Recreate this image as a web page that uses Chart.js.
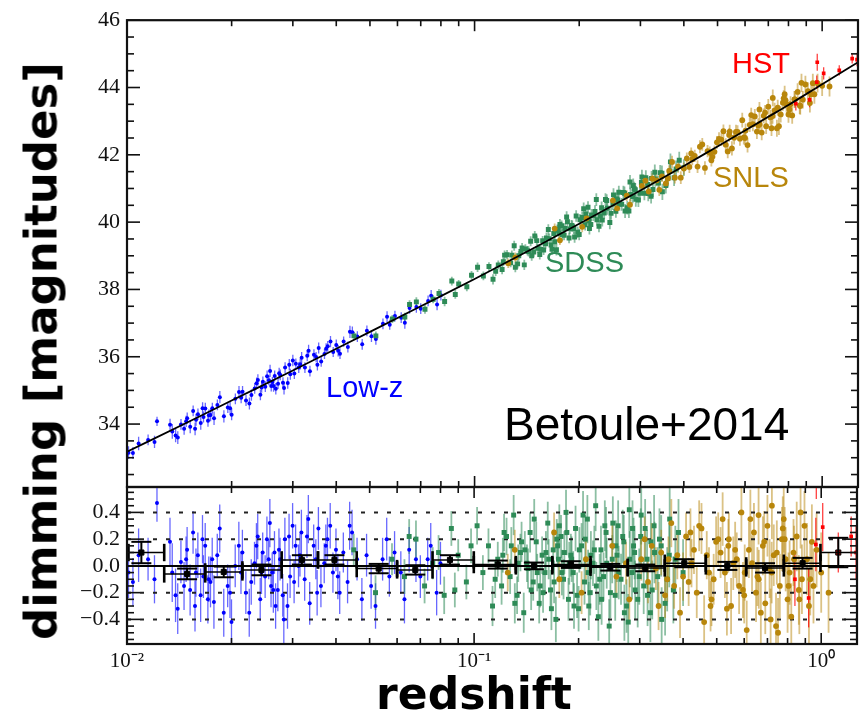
<!DOCTYPE html>
<html>
<head>
<meta charset="utf-8">
<script src="https://cdn.jsdelivr.net/npm/chart.js@4/dist/chart.umd.min.js"></script>
<style>
html,body{margin:0;padding:0;background:#fff;}
#wrap{position:relative;width:862px;height:715px;overflow:hidden;background:#fff;}
#wrap canvas{position:absolute;left:0;top:0;}
.lbl{position:absolute;font-family:'Liberation Sans',Arial,sans-serif;white-space:nowrap;line-height:1;}
.ttl{position:absolute;font-family:'DejaVu Sans',sans-serif;font-weight:bold;white-space:nowrap;line-height:1;color:#000;}
</style>
</head>
<body>
<div id="wrap">
  <canvas id="topChart" width="862" height="715"></canvas>
  <canvas id="botChart" width="862" height="715"></canvas>
  <div class="lbl" style="left:732px;top:48.5px;font-size:29px;color:#ff0000;">HST</div>
  <div class="lbl" style="left:713px;top:162.5px;font-size:29px;color:#b8860b;">SNLS</div>
  <div class="lbl" style="left:545px;top:247.5px;font-size:29px;color:#2e8b57;">SDSS</div>
  <div class="lbl" style="left:326px;top:372.5px;font-size:29px;color:#0000ff;">Low-z</div>
  <div class="lbl" style="left:504px;top:401px;font-size:46px;color:#000;">Betoule+2014</div>
  <div class="ttl" style="left:474px;top:672px;font-size:44px;transform:translateX(-50%);">redshift</div>
  <div class="ttl" style="left:41px;top:351px;font-size:45px;transform:translate(-50%,-50%) rotate(-90deg);">dimming [magnitudes]</div>
</div>
<script>
// ---------------- DATA ----------------
// Axis ticks
const xMajorTicks = [0.01, 0.1, 1];
const xTickLabels = ['10\u207B\u00B2', '10\u207B\u00B9', '10\u2070'];
const xMinorTicks = [0.02,0.03,0.04,0.05,0.06,0.07,0.08,0.09,0.2,0.3,0.4,0.5,0.6,0.7,0.8,0.9];
const topYTicks = [34, 36, 38, 40, 42, 44, 46];
const topYMinorTicks = [32.5,33,33.5,34.5,35,35.5,36.5,37,37.5,38.5,39,39.5,40.5,41,41.5,42.5,43,43.5,44.5,45,45.5];
const resYTicks = [-0.4, -0.2, 0.0, 0.2, 0.4];
const resYMinorTicks = [-0.55,-0.5,-0.45,-0.35,-0.3,-0.25,-0.15,-0.1,-0.05,0.05,0.1,0.15,0.25,0.3,0.35,0.45,0.5,0.55];
const resGridLines = [-0.4, -0.2, 0.2, 0.4];

// Best-fit model line (distance modulus vs redshift)
const modelZ  = [0.01, 0.015, 0.02, 0.03, 0.05, 0.07, 0.1, 0.15, 0.2, 0.3, 0.4, 0.5, 0.6, 0.7, 0.8, 1.0, 1.3];
const modelMu = [33.18, 34.06, 34.70, 35.59, 36.74, 37.50, 38.31, 39.26, 39.95, 40.94, 41.67, 42.25, 42.72, 43.13, 43.48, 44.10, 44.82];
const zeroLineZ = [0.01, 1.3];
const zeroLineRes = [0, 0];

// Low-z sample
const lowzZ = [0.0101,0.0104,0.0108,0.0115,0.0122,0.0135,0.0140,0.0143,0.0146,0.0149,0.0152,0.0155,0.0158,0.0160,0.0163,0.0166,0.0168,0.0171,0.0174,0.0176,0.0178,0.0182,0.0190,0.0195,0.0200,0.0205,0.0210,0.0213,0.0220,0.0228,0.0233,0.0238,0.0242,0.0246,0.0250,0.0253,0.0256,0.0260,0.0262,0.0266,0.0268,0.0272,0.0276,0.0281,0.0285,0.0290,0.0295,0.0300,0.0306,0.0312,0.0318,0.0325,0.0330,0.0336,0.0345,0.0350,0.0356,0.0362,0.0370,0.0378,0.0385,0.0392,0.0400,0.0410,0.0420,0.0432,0.0445,0.0460,0.0475,0.0490,0.0520,0.0545,0.0570,0.0590,0.0615,0.0650,0.0700,0.0735,0.0780,0.0800,
  0.0133,0.0138,0.0148,0.0157,0.0165,0.0172,0.0185,0.0198,0.0215,0.0225,0.0236,0.0244,0.0258,0.0264,0.0274,0.0283,0.0293,0.0303,0.0315,0.0333,0.0353,0.0374,0.0405,0.0438,0.0505,0.0560,0.0630,0.0680,0.0750,0.0120];
const lowzMu = [33.15,33.14,33.42,33.53,34.08,33.78,33.60,33.99,33.86,34.17,33.92,34.39,34.13,34.29,34.03,34.21,34.46,34.10,34.27,34.47,34.17,34.57,34.23,34.49,34.28,34.75,34.95,34.78,34.70,34.86,35.06,35.31,34.87,35.26,35.11,35.42,35.30,35.13,35.25,35.43,35.05,35.20,35.46,35.23,35.68,35.22,35.48,35.89,35.79,35.68,35.97,35.68,36.03,35.57,36.06,35.99,36.26,35.86,36.08,36.31,36.45,36.14,36.35,36.09,36.45,36.29,36.73,36.60,36.37,36.77,36.53,36.98,36.95,37.21,37.16,37.45,37.43,37.66,37.55,37.83,
  33.98,33.66,34.08,33.86,34.47,34.26,34.80,34.47,34.96,34.61,35.21,35.09,35.58,35.13,35.51,35.07,35.76,35.50,35.78,36.18,35.76,36.24,36.18,36.74,36.61,37.19,37.01,37.48,37.81,33.47];
const lowzRes = [-0.05,-0.12,0.08,0.05,0.47,-0.05,-0.32,0.03,-0.15,0.12,-0.18,0.25,-0.05,0.08,-0.22,-0.08,0.15,-0.25,-0.12,0.05,-0.27,0.08,-0.35,-0.15,-0.42,0.00,0.15,-0.05,-0.20,-0.12,0.02,0.22,-0.25,0.10,-0.08,0.20,0.05,-0.15,-0.05,0.10,-0.30,-0.18,0.05,-0.22,0.20,-0.30,-0.08,0.30,0.15,0.00,0.25,-0.10,0.22,-0.28,0.15,0.05,0.28,-0.15,0.02,0.20,0.30,-0.05,0.12,-0.20,0.10,-0.12,0.25,0.05,-0.25,0.08,-0.30,0.05,-0.08,0.10,-0.05,0.12,-0.08,0.05,-0.20,0.02,
  0.18,-0.22,0.05,-0.30,0.20,-0.10,0.28,-0.20,0.10,-0.35,0.15,-0.05,0.32,-0.18,0.12,-0.40,0.22,-0.12,0.08,0.35,-0.20,0.15,-0.08,0.30,-0.15,0.20,-0.25,0.05,0.15,-0.10];
const lowzErr = [0.19,0.18,0.20,0.16,0.14,0.22,0.19,0.16,0.18,0.17,0.19,0.16,0.18,0.17,0.20,0.16,0.17,0.18,0.19,0.16,0.20,0.16,0.18,0.16,0.17,0.16,0.18,0.16,0.16,0.17,0.16,0.17,0.16,0.15,0.16,0.17,0.15,0.16,0.15,0.16,0.17,0.16,0.16,0.16,0.16,0.17,0.16,0.17,0.16,0.16,0.17,0.16,0.16,0.16,0.16,0.15,0.16,0.16,0.15,0.16,0.17,0.15,0.16,0.16,0.15,0.16,0.17,0.16,0.16,0.16,0.17,0.16,0.15,0.16,0.16,0.17,0.16,0.16,0.17,0.16,
  0.18,0.20,0.17,0.19,0.18,0.17,0.18,0.19,0.17,0.18,0.17,0.16,0.18,0.17,0.16,0.19,0.17,0.16,0.16,0.18,0.17,0.16,0.17,0.18,0.17,0.16,0.18,0.17,0.17,0.18];

// SDSS sample
const sdssZ = [0.045,0.052,0.058,0.063,0.068,0.072,0.076,0.082,0.086,0.090,0.095,0.102,0.106,0.110,0.113,0.117,0.120,0.124,0.127,0.130,0.133,0.136,0.139,0.142,0.145,0.148,0.151,0.154,0.157,0.160,0.163,0.166,0.169,0.172,0.175,0.178,0.181,0.184,0.187,0.190,0.193,0.196,0.200,0.204,0.208,0.212,0.216,0.220,0.224,0.228,0.232,0.236,0.240,0.245,0.250,0.255,0.260,0.265,0.270,0.275,0.280,0.285,0.290,0.296,0.302,0.308,0.315,0.322,0.330,0.338,0.346,0.355,0.365,0.375,0.388,0.400,
  0.121,0.128,0.134,0.140,0.146,0.152,0.158,0.164,0.170,0.176,0.182,0.188,0.194,0.201,0.209,0.217,0.225,0.233,0.241,0.251,0.261,0.271,0.281,0.291,0.303,0.316,0.331,0.347,0.366,0.173,0.213,0.256,0.286,0.323,
  0.115,0.122,0.131,0.137,0.143,0.149,0.155,0.161,0.167,0.174,0.179,0.185,0.191,0.198,0.206,0.214,0.222,0.230,0.238,0.247,0.258,0.268,0.278,0.288,0.299,0.311,0.326,0.342,0.360,0.380,0.098,0.088,0.079,0.065];
const sdssMu = [36.62,36.62,37.12,37.18,37.63,37.41,37.71,37.64,38.25,38.16,38.08,38.66,38.40,38.68,38.30,38.73,38.59,39.03,38.79,39.30,38.76,39.13,38.73,39.15,39.43,39.11,39.45,39.04,39.45,39.36,39.78,39.32,39.66,39.18,39.68,39.89,39.61,40.15,39.53,39.90,39.81,40.18,39.63,40.14,39.92,40.44,39.93,40.20,40.67,39.88,40.43,40.27,40.64,39.99,40.54,40.32,40.89,40.53,40.86,40.43,41.19,40.76,40.96,40.66,41.18,40.86,41.12,40.77,41.48,41.16,41.45,41.09,41.52,41.32,41.84,41.62,
  38.82,39.02,39.00,39.20,39.00,39.22,39.17,39.51,39.42,39.93,39.81,39.80,39.56,40.07,40.24,40.21,40.07,40.06,40.41,40.81,40.54,40.33,40.82,40.68,41.34,40.85,41.28,40.90,41.79,39.78,40.04,40.69,41.09,41.30,
  38.54,39.02,38.66,39.23,39.13,39.59,39.19,39.53,39.19,39.76,39.63,40.01,39.88,39.70,40.40,39.81,40.32,40.18,40.67,40.26,40.65,40.88,40.33,40.99,40.86,41.32,40.97,41.47,41.30,41.58,38.42,37.85,37.88,37.55];
const sdssRes = [0.12,-0.20,0.05,-0.08,0.20,-0.15,0.02,-0.22,0.28,0.08,-0.12,0.30,-0.05,0.15,-0.30,0.05,-0.15,0.22,-0.08,0.38,-0.22,0.10,-0.35,0.02,0.25,-0.12,0.18,-0.28,0.08,-0.05,0.32,-0.18,0.12,-0.40,0.05,0.22,-0.10,0.40,-0.25,0.08,-0.05,0.28,-0.32,0.15,-0.12,0.35,-0.20,0.02,0.45,-0.38,0.12,-0.08,0.25,-0.45,0.05,-0.22,0.30,-0.10,0.18,-0.30,0.42,-0.05,0.10,-0.25,0.22,-0.15,0.05,-0.35,0.30,-0.08,0.15,-0.28,0.08,-0.18,0.25,-0.05,
  0.08,0.15,0.02,0.12,-0.18,-0.05,-0.20,0.05,-0.12,0.30,0.10,0.02,-0.30,0.12,0.20,0.08,-0.15,-0.25,0.02,0.32,-0.05,-0.35,0.05,-0.18,0.38,-0.22,0.10,-0.40,0.35,0.20,-0.05,0.15,0.28,0.18,
  -0.10,0.25,-0.28,0.18,-0.02,0.35,-0.15,0.10,-0.32,0.15,-0.05,0.25,0.05,-0.22,0.38,-0.30,0.12,-0.10,0.30,-0.20,0.08,0.22,-0.42,0.15,-0.08,0.28,-0.18,0.20,-0.10,0.05,0.15,-0.18,0.10,0.22];
const sdssErr = [0.12,0.13,0.12,0.13,0.14,0.13,0.12,0.14,0.13,0.12,0.13,0.14,0.13,0.13,0.15,0.13,0.14,0.14,0.13,0.15,0.14,0.14,0.15,0.14,0.15,0.14,0.15,0.15,0.14,0.15,0.16,0.15,0.15,0.17,0.15,0.16,0.15,0.17,0.16,0.16,0.16,0.17,0.17,0.17,0.17,0.18,0.17,0.17,0.19,0.18,0.18,0.18,0.19,0.20,0.18,0.19,0.19,0.19,0.20,0.20,0.21,0.20,0.20,0.21,0.21,0.21,0.22,0.22,0.23,0.22,0.23,0.24,0.24,0.25,0.25,0.25,
  0.13,0.14,0.14,0.14,0.15,0.14,0.15,0.15,0.16,0.16,0.16,0.16,0.17,0.17,0.18,0.18,0.18,0.19,0.19,0.20,0.20,0.21,0.21,0.22,0.22,0.23,0.23,0.24,0.25,0.15,0.17,0.19,0.21,0.22,
  0.14,0.14,0.15,0.15,0.15,0.15,0.16,0.16,0.16,0.16,0.17,0.17,0.17,0.17,0.18,0.18,0.18,0.19,0.19,0.19,0.20,0.20,0.21,0.21,0.21,0.22,0.22,0.23,0.24,0.25,0.13,0.13,0.13,0.13];

// SNLS sample
const snlsZ = [0.125,0.131,0.170,0.176,0.210,0.204,0.250,0.257,0.280,0.274,0.310,0.317,0.303,0.340,0.346,0.334,0.370,0.377,0.363,0.400,0.408,0.392,0.430,0.438,0.423,0.460,0.468,0.452,0.490,0.498,0.483,0.520,0.528,0.513,0.550,0.558,0.542,0.580,0.589,0.571,0.610,0.619,0.602,0.640,0.649,0.632,0.670,0.679,0.661,0.700,0.710,0.690,0.730,0.741,0.721,0.760,0.771,0.751,0.790,0.800,0.780,0.820,0.832,0.811,0.850,0.862,0.880,0.872,0.910,0.922,0.950,0.940,1.000,1.050,
  0.325,0.355,0.385,0.415,0.445,0.475,0.505,0.535,0.565,0.595,0.625,0.655,0.685,0.715,0.745,0.775,0.805,0.835,0.865,0.895,0.930,0.970,0.360,0.420,0.480,0.540,0.600,0.660,0.720,0.785];
const snlsMu = [38.78,38.95,39.81,39.46,40.11,39.86,40.64,40.41,40.52,40.79,41.23,40.91,41.08,40.96,41.36,41.24,41.79,41.32,41.52,41.59,41.89,41.32,41.97,41.65,41.87,41.61,42.11,42.31,42.09,42.37,41.94,42.70,42.30,42.45,42.19,42.51,42.69,42.48,43.03,42.68,42.29,42.89,42.72,43.14,42.69,42.91,42.66,43.16,42.91,43.43,43.11,42.85,43.32,42.79,43.69,43.20,43.55,42.85,43.50,43.20,43.80,43.17,43.65,43.50,43.87,43.47,43.64,44.14,43.89,43.54,43.80,44.13,44.05,44.03,
  41.29,41.15,41.65,41.64,42.24,42.06,42.47,42.10,42.68,42.52,43.18,42.87,43.25,42.79,43.40,43.68,43.35,43.65,43.45,44.09,43.80,44.13,41.30,42.04,41.84,42.59,42.50,43.35,43.15,43.62];
const snlsRes = [-0.05,0.12,0.25,-0.10,0.05,-0.20,0.15,-0.08,-0.25,0.02,0.20,-0.12,0.05,-0.30,0.10,-0.02,0.32,-0.15,0.05,-0.08,0.22,-0.35,0.12,-0.20,0.02,-0.42,0.08,0.28,-0.10,0.18,-0.25,0.35,-0.05,0.10,-0.30,0.02,0.20,-0.15,0.40,0.05,-0.48,0.12,-0.05,0.25,-0.20,0.02,-0.35,0.15,-0.10,0.30,-0.02,-0.28,0.08,-0.45,0.45,-0.15,0.20,-0.50,0.05,-0.25,0.35,-0.38,0.10,-0.05,0.22,-0.18,-0.10,0.40,0.05,-0.30,-0.15,0.18,-0.05,-0.20,
  0.15,-0.22,0.08,-0.12,0.30,-0.05,0.20,-0.32,0.12,-0.18,0.35,-0.08,0.18,-0.40,0.10,0.28,-0.15,0.05,-0.25,0.30,-0.10,0.12,-0.10,0.25,-0.30,0.15,-0.22,0.38,-0.05,0.20];
const snlsErr = [0.14,0.15,0.15,0.14,0.15,0.16,0.16,0.15,0.17,0.16,0.17,0.16,0.16,0.18,0.17,0.16,0.18,0.17,0.17,0.18,0.18,0.19,0.18,0.19,0.18,0.20,0.18,0.19,0.19,0.19,0.20,0.20,0.19,0.19,0.21,0.20,0.20,0.21,0.22,0.20,0.22,0.21,0.21,0.22,0.22,0.21,0.23,0.22,0.22,0.23,0.22,0.23,0.23,0.25,0.25,0.24,0.24,0.26,0.24,0.25,0.25,0.25,0.25,0.24,0.26,0.26,0.26,0.27,0.27,0.28,0.28,0.28,0.30,0.30,
  0.17,0.17,0.18,0.18,0.19,0.19,0.20,0.20,0.21,0.21,0.22,0.22,0.23,0.23,0.24,0.24,0.25,0.25,0.26,0.26,0.27,0.28,0.17,0.18,0.19,0.20,0.21,0.22,0.23,0.24];

// HST sample
const hstZ   = [0.84, 0.92, 0.965, 0.968, 1.01, 1.12, 1.22, 1.26];
const hstMu  = [43.52, 43.63, 44.16, 44.75, 44.42, 44.51, 44.86, 44.83];
const hstRes = [-0.10, -0.24, 0.16, 0.75, 0.29, 0.10, 0.22, 0.10];
const hstErr = [0.20, 0.22, 0.20, 0.25, 0.18, 0.15, 0.15, 0.20];

// Binned residuals (black)
const binZ   = [0.0110,0.0149,0.0190,0.0244,0.0319,0.0396,0.0531,0.0677,0.0852,0.117,0.1487,0.190,0.2468,0.3112,0.4032,0.5365,0.689,0.884,1.12];
const binLo  = [0.0101,0.0128,0.0168,0.0215,0.0279,0.0355,0.0459,0.0600,0.0759,0.0998,0.1319,0.168,0.2165,0.2771,0.3542,0.4651,0.608,0.7804,0.995];
const binHi  = [0.0128,0.0168,0.0215,0.0279,0.0355,0.0459,0.0600,0.0759,0.0998,0.1319,0.168,0.2165,0.2771,0.3542,0.4651,0.608,0.7804,0.995,1.27];
const binRes = [0.10,-0.06,-0.045,-0.03,0.045,0.045,-0.02,-0.03,0.045,0.01,0.0,0.01,-0.01,-0.015,0.02,0.0,-0.015,0.02,0.10];
const binErr = [0.08,0.04,0.04,0.04,0.035,0.035,0.035,0.035,0.035,0.03,0.025,0.025,0.025,0.025,0.03,0.03,0.035,0.04,0.11];

// ---------------- HELPERS ----------------
const pts = (xs, ys) => xs.map((x, i) => ({x: x, y: ys[i]}));
const X_MIN = 0.01, X_MAX = 1.268;

function strokeLine(ctx, x0, y0, x1, y1) {
  ctx.beginPath(); ctx.moveTo(x0, y0); ctx.lineTo(x1, y1); ctx.stroke();
}

const errorBarPlugin = {
  id: 'errorBars',
  beforeDatasetsDraw(chart) {
    const {ctx, chartArea: a} = chart;
    ctx.save();
    ctx.beginPath(); ctx.rect(a.left, a.top, a.right - a.left, a.bottom - a.top); ctx.clip();
    chart.data.datasets.forEach((ds, i) => {
      if (!ds.errValues) return;
      const meta = chart.getDatasetMeta(i);
      const xs = chart.scales[meta.xAxisID], ys = chart.scales[meta.yAxisID];
      ctx.strokeStyle = ds.errColor;
      ctx.lineWidth = ds.errWidth;
      ds.data.forEach((p, j) => {
        const e = ds.errValues[j];
        const px = xs.getPixelForValue(p.x);
        strokeLine(ctx, px, ys.getPixelForValue(p.y - e), px, ys.getPixelForValue(p.y + e));
      });
    });
    ctx.restore();
  }
};

function makeFramePlugin(yMajor, yMinor, withGrid) {
  return {
    id: 'frame',
    beforeDatasetsDraw(chart) {
      if (!withGrid) return;
      const {ctx, chartArea: a, scales: {y}} = chart;
      ctx.save();
      ctx.strokeStyle = '#222';
      ctx.lineWidth = 2;
      ctx.setLineDash([4, 9]);
      resGridLines.forEach(v => {
        const py = y.getPixelForValue(v);
        strokeLine(ctx, a.left, py, a.right, py);
      });
      ctx.restore();
    },
    afterDraw(chart) {
      const {ctx, chartArea: a, scales: {x, y}} = chart;
      ctx.save();
      ctx.strokeStyle = '#111';
      ctx.lineWidth = 1.6;
      xMajorTicks.concat(xMinorTicks).forEach(v => {
        const px = x.getPixelForValue(v);
        if (px < a.left - 0.5 || px > a.right + 0.5) return;
        const L = xMajorTicks.includes(v) ? 11 : 6;
        strokeLine(ctx, px, a.top, px, a.top + L);
        strokeLine(ctx, px, a.bottom, px, a.bottom - L);
      });
      yMajor.concat(yMinor).forEach(v => {
        const py = y.getPixelForValue(v);
        if (py < a.top - 0.5 || py > a.bottom + 0.5) return;
        const L = yMajor.includes(v) ? 13 : 7;
        strokeLine(ctx, a.left, py, a.left + L, py);
        strokeLine(ctx, a.right, py, a.right - L, py);
      });
      ctx.lineWidth = 2.2;
      ctx.strokeRect(a.left, a.top, a.right - a.left, a.bottom - a.top);
      ctx.restore();
    }
  };
}

const binPlugin = {
  id: 'bins',
  afterDatasetsDraw(chart) {
    const {ctx, chartArea: a, scales: {x, y}} = chart;
    ctx.save();
    ctx.beginPath(); ctx.rect(a.left, a.top, a.right - a.left, a.bottom - a.top); ctx.clip();
    ctx.strokeStyle = '#000';
    binZ.forEach((z, i) => {
      const r = binRes[i], e = binErr[i];
      const px = x.getPixelForValue(z), py = y.getPixelForValue(r);
      const x0 = x.getPixelForValue(binLo[i]), x1 = x.getPixelForValue(binHi[i]);
      ctx.lineWidth = 1.5;
      strokeLine(ctx, x0, py, x1, py);
      ctx.lineWidth = 2.6;
      const c0 = y.getPixelForValue(r + 0.065), c1 = y.getPixelForValue(r - 0.065);
      strokeLine(ctx, x0, c0, x0, c1);
      strokeLine(ctx, x1, c0, x1, c1);
      ctx.lineWidth = 2;
      const e0 = y.getPixelForValue(r + e), e1 = y.getPixelForValue(r - e);
      strokeLine(ctx, px, e0, px, e1);
      strokeLine(ctx, px - 10, e0, px + 10, e0);
      strokeLine(ctx, px - 10, e1, px + 10, e1);
    });
    ctx.restore();
  }
};

const tickFont = {family: "'Liberation Serif','Times New Roman',serif", size: 22};

function sampleSets(yKey) {
  return [
    {label: 'Low-z', data: pts(lowzZ, yKey === 'mu' ? lowzMu : lowzRes), errValues: lowzErr,
     errColor: 'rgba(40,40,255,0.7)', errWidth: 1.3, order: 5,
     pointStyle: 'circle', pointRadius: 2, pointBackgroundColor: '#0000ff', pointBorderWidth: 0},
    {label: 'SDSS', data: pts(sdssZ, yKey === 'mu' ? sdssMu : sdssRes), errValues: sdssErr,
     errColor: 'rgba(46,139,87,0.55)', errWidth: 1.8, order: 4,
     pointStyle: 'rect', pointRadius: 3.5, pointBackgroundColor: '#2e8b57', pointBorderWidth: 0},
    {label: 'SNLS', data: pts(snlsZ, yKey === 'mu' ? snlsMu : snlsRes), errValues: snlsErr,
     errColor: 'rgba(184,134,11,0.5)', errWidth: 1.8, order: 3,
     pointStyle: 'circle', pointRadius: 2.9, pointBackgroundColor: '#b8860b', pointBorderWidth: 0},
    {label: 'HST', data: pts(hstZ, yKey === 'mu' ? hstMu : hstRes), errValues: hstErr,
     errColor: 'rgba(255,0,0,0.75)', errWidth: 1.3, order: 2,
     pointStyle: 'rect', pointRadius: 2.6, pointBackgroundColor: '#ff0000', pointBorderWidth: 0}
  ];
}

// ---------------- TOP PANEL ----------------
new Chart(document.getElementById('topChart'), {
  type: 'scatter',
  data: {
    datasets: [
      {type: 'line', label: 'model', data: pts(modelZ, modelMu), borderColor: '#000', borderWidth: 1.8,
       pointRadius: 0, fill: false, cubicInterpolationMode: 'monotone', order: 0}
    ].concat(sampleSets('mu'))
  },
  options: {
    responsive: false, animation: false, events: [],
    layout: {padding: {top: 19, right: 1, bottom: 228, left: 0}},
    plugins: {legend: {display: false}, tooltip: {enabled: false}},
    scales: {
      x: {type: 'logarithmic', min: X_MIN, max: X_MAX, display: false},
      y: {type: 'linear', min: 32.13, max: 46,
          grid: {display: false, drawTicks: false}, border: {display: false},
          afterBuildTicks: s => { s.ticks = topYTicks.map(v => ({value: v})); },
          afterFit: s => { s.width = 127; },
          ticks: {font: tickFont, color: '#111', padding: 7, callback: v => String(v)}}
    }
  },
  plugins: [errorBarPlugin, makeFramePlugin(topYTicks, topYMinorTicks, false)]
});

// ---------------- RESIDUAL PANEL ----------------
new Chart(document.getElementById('botChart'), {
  type: 'scatter',
  data: {
    datasets: [
      {type: 'line', label: 'zero', data: pts(zeroLineZ, zeroLineRes), borderColor: '#000', borderWidth: 2,
       pointRadius: 0, fill: false, order: 0},
      {label: 'binned', data: pts(binZ, binRes), order: 1, pointStyle: 'rect', pointRadius: 3.6,
       pointBackgroundColor: binZ.map(z => z > 1 ? '#b00000' : '#000'), pointBorderColor: '#000', pointBorderWidth: 1}
    ].concat(sampleSets('res'))
  },
  options: {
    responsive: false, animation: false, events: [],
    layout: {padding: {top: 487, right: 1, bottom: 0, left: 0}},
    plugins: {legend: {display: false}, tooltip: {enabled: false}},
    scales: {
      x: {type: 'logarithmic', min: X_MIN, max: X_MAX,
          grid: {display: false, drawTicks: false}, border: {display: false},
          afterBuildTicks: s => { s.ticks = xMajorTicks.map(v => ({value: v})); },
          afterFit: s => { s.height = 71; },
          ticks: {font: {family: tickFont.family, size: 21}, color: '#111', padding: 5, maxRotation: 0, autoSkip: false,
                  callback: (v, i) => xTickLabels[i]}},
      y: {type: 'linear', min: -0.584, max: 0.59,
          grid: {display: false, drawTicks: false}, border: {display: false},
          afterBuildTicks: s => { s.ticks = resYTicks.map(v => ({value: v})); },
          afterFit: s => { s.width = 127; },
          ticks: {font: tickFont, color: '#111', padding: 7,
                  callback: v => v.toFixed(1).replace('-', '\u2212').replace('\u22120.0', '0.0')}}
    }
  },
  plugins: [errorBarPlugin, makeFramePlugin(resYTicks, resYMinorTicks, true), binPlugin]
});
</script>
</body>
</html>
